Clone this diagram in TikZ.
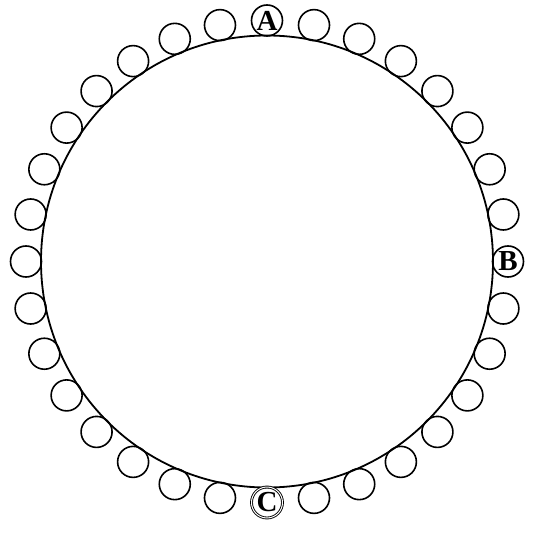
\documentclass[tikz,border=0pt]{standalone}
\usepackage{fontspec}
\setmainfont{Liberation Serif}
\usepackage{tikz}
\tikzset{
  rg diagram/.style={x=1pt, y=1pt, line cap=round, line join=round},
  rg wheel/.style={draw=black, line width=1.8pt},
  rg bead/.style={circle, draw=black, line width=1.6pt, minimum size=31pt,
    inner sep=0pt, font=\fontsize{29}{29}\selectfont\bfseries},
  rg mark/.style={rg bead, double, double distance=1pt, line width=0.9pt}
}
\begin{document}
\begin{tikzpicture}[rg diagram]
\useasboundingbox (-267,-284.5) rectangle (276,261.5);
\coordinate (o) at (0,0);
\draw[rg wheel] (o) circle (226);
% plain beads round the wheel, leaving room for A, B and C
\foreach \k in {1,...,31}{
  \ifnum\k=8 \else \ifnum\k=24 \else
    \node[rg bead] (b\k) at (\k*11.25:241) {};
  \fi\fi
}
\node[rg bead] (bA) at (90:241) {A};
\node[rg bead] (bB) at (0:241) {B};
\node[rg mark] (bC) at (270:241) {C};
\end{tikzpicture}
\end{document}
